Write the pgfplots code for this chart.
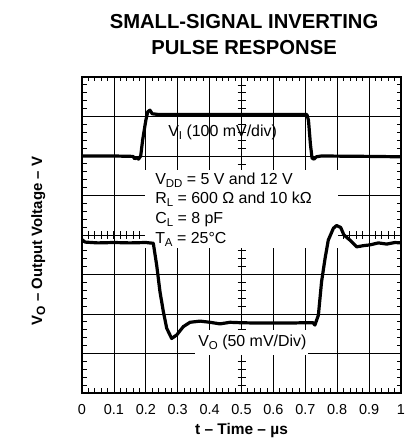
\documentclass[border=0pt]{standalone}
\usepackage{pgfplots}
\pgfplotsset{compat=1.18}
\usepackage{fontspec}
\setmainfont{Liberation Sans}
\newcommand{\sub}[1]{\raisebox{-3bp}{\fontsize{11.5}{12}\selectfont #1}}
\newcommand{\bsub}[1]{\raisebox{-3bp}{\fontsize{12}{12}\selectfont\bfseries #1}}
\begin{document}
\begin{tikzpicture}[x=1bp,y=1bp]
\path[use as bounding box] (0,0) rectangle (411,444);
\begin{axis}[
  at={(82bp,51bp)}, anchor=south west,
  width=319bp, height=316bp, scale only axis,
  xmin=0, xmax=1, ymin=0, ymax=8,
  xtick={0,0.1,0.2,0.3,0.4,0.5,0.6,0.7,0.8,0.9,1},
  xticklabels={0,0.1,0.2,0.3,0.4,0.5,0.6,0.7,0.8,0.9,1},
  ytick={0,1,...,8}, yticklabels={},
  minor x tick num=4, minor y tick num=4,
  grid=major, major grid style={black, line width=0.8bp},
  major tick length=0pt, minor tick length=4.5bp, tick align=inside,
  every tick/.style={black, line width=0.8bp},
  xtick pos=both, ytick pos=both,
  axis line style={line width=2bp},
  xticklabel style={font=\fontsize{14.5}{16}\selectfont, anchor=base, yshift=-22bp, inner sep=0pt},
  xlabel={\textbf{t -- Time -- \textmu s}},
  xlabel style={at={(axis description cs:0.5,0)}, anchor=base, yshift=-41bp, inner sep=0pt, font=\fontsize{15.5}{16}\selectfont},
  ylabel={\textbf{V\bsub{O} -- Output Voltage -- V}},
  ylabel style={at={(axis description cs:-0.125,0.481)}, anchor=base, inner sep=0pt, font=\fontsize{15}{16}\selectfont},
  title={SMALL-SIGNAL INVERTING\\PULSE RESPONSE},
  title style={at={(axis description cs:0.508,1)}, anchor=south, yshift=16bp, inner sep=0pt, align=center, font=\bfseries\fontsize{20.3}{26}\selectfont},
  clip=false,
]
% graticule centre-line ticks
\pgfplotsinvokeforeach{0.02,0.04,...,0.99}{
  \draw[black, line width=0.8bp] (axis cs:#1,4) ++(0,-4bp) -- ++(0,8bp);
}
\pgfplotsinvokeforeach{0.2,0.4,...,7.9}{
  \draw[black, line width=0.8bp] (axis cs:0.5,#1) ++(-4bp,0) -- ++(8bp,0);
}
% white boxes behind annotations
\fill[white] (axis cs:0.198,3.67) rectangle (axis cs:0.802,5.646);
\fill[white] (axis cs:0.355,0.95) rectangle (axis cs:0.71,1.6);
% V_I input pulse
\addplot[black, line width=3.2bp, line join=round] coordinates {
(0,6.0) (0.1,6.0) (0.16,5.99) (0.165,5.93) (0.171,5.96) (0.177,5.92) (0.184,6.0)
(0.19,6.4) (0.2,6.9) (0.206,7.12) (0.213,7.16) (0.22,7.07) (0.24,7.05) (0.4,7.05)
(0.6,7.05) (0.705,7.05) (0.71,6.9) (0.716,6.3) (0.721,5.95) (0.727,5.92) (0.735,5.98)
(0.75,6.0) (0.9,5.99) (1,5.98)};
% V_O output
\addplot[black, line width=3.2bp, line join=round] coordinates {
(0,3.88) (0.01,3.82) (0.05,3.8) (0.1,3.81) (0.15,3.8) (0.2,3.81) (0.2235,3.79)
(0.234,3.24) (0.2445,2.56) (0.255,2.06) (0.2655,1.64) (0.281,1.38) (0.297,1.47)
(0.3175,1.68) (0.3386,1.79) (0.37,1.82) (0.401,1.79) (0.4326,1.75) (0.464,1.79)
(0.495,1.78) (0.55,1.77) (0.6,1.77) (0.65,1.77) (0.7,1.78) (0.724,1.78)
(0.730,1.72) (0.741,1.97) (0.751,2.82) (0.762,3.41) (0.772,3.87) (0.788,4.17)
(0.798,4.24) (0.811,4.19) (0.821,4.0) (0.840,3.87) (0.861,3.70) (0.882,3.73)
(0.903,3.75) (0.929,3.8) (0.955,3.77) (0.981,3.81) (1,3.8)};
% annotations
\begin{scope}[every node/.style={anchor=base west, inner sep=0pt, font=\fontsize{16}{18}\selectfont}]
\node at (axis cs:0.270,6.506) {V\sub{I} (100 mV/div)};
\node at (axis cs:0.364,1.165) {V\sub{O} (50 mV/Div)};
\node at (axis cs:0.229,5.266) {V\sub{DD} = 5 V and 12 V};
\node at (axis cs:0.229,4.80) {R\sub{L} = 600 Ω and 10 kΩ};
\node at (axis cs:0.229,4.296) {C\sub{L} = 8 pF};
\node at (axis cs:0.229,3.79) {T\sub{A} = 25°C};
\end{scope}
\end{axis}
\end{tikzpicture}
\end{document}
